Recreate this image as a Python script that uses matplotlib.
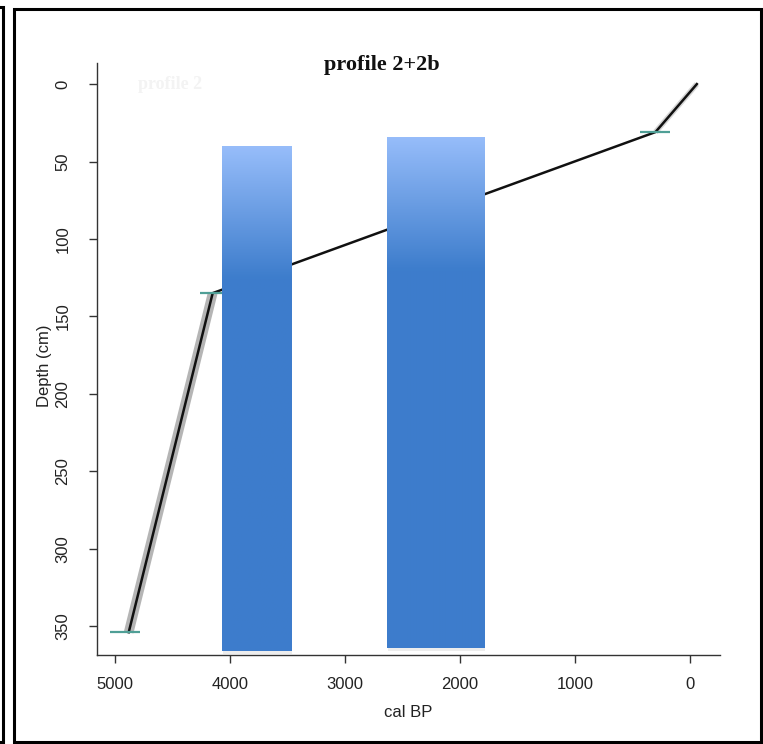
import numpy as np
import matplotlib
matplotlib.use('Agg')
import matplotlib.pyplot as plt
from matplotlib.patches import Rectangle

# age-depth model (cal BP vs depth in cm)
model_age = [-60, 300, 4150, 4880]
model_depth = [0, 31, 135, 354]

# dated levels: depth and calibrated age range
date_depth = [31, 135, 354]
date_age_lo = [170, 4020, 4780]
date_age_hi = [430, 4260, 5040]

# blue blocks drawn over the model
bar_age_left = [4070, 2635]
bar_age_right = [3470, 1790]
bar_top = [40, 34]
bar_bottom = [366, 364]

x_ticks = [5000, 4000, 3000, 2000, 1000, 0]
y_ticks = [0, 50, 100, 150, 200, 250, 300, 350]

plt.rcParams['font.family'] = ['Liberation Sans', 'DejaVu Sans']

fig = plt.figure(figsize=(7.63, 7.44), dpi=100)
ax = fig.add_axes([0.1271, 0.1196, 0.8165, 0.7957])

# uncertainty envelope (grey) and model line
ax.plot(model_age[2:], model_depth[2:], color='#b5b5b5', lw=7, solid_capstyle='butt', zorder=1)
ax.plot(model_age[:2], model_depth[:2], color='#d5d5d5', lw=4, solid_capstyle='butt', zorder=1)
ax.plot(model_age, model_depth, color='#111111', lw=1.8, zorder=2)

# dated levels
ax.hlines(date_depth, date_age_lo, date_age_hi, color='#4f9f96', lw=1.6, zorder=3)

# gradient blocks
grad = np.linspace(0, 1, 256)
light = np.array([0.59, 0.74, 0.98])
dark = np.array([0.24, 0.49, 0.80])
for l, r, t, b in zip(bar_age_left, bar_age_right, bar_top, bar_bottom):
    # soft shadow
    ax.add_patch(Rectangle((l - 12, t + 2), r - l, b - t, facecolor='#000000',
                           alpha=0.07, edgecolor='none', zorder=4))
    bars = ax.bar([(l + r) / 2], [b - t], bottom=[t], width=abs(l - r),
                  color='#3d7ecf', edgecolor='none', zorder=5)
    frac = 0.26
    mix = np.clip(grad / frac, 0, 1)[:, None]
    img = (light * (1 - mix) + dark * mix)[:, None, :]
    im = ax.imshow(img, extent=[l, r, b, t], origin='upper', aspect='auto',
                   zorder=6, interpolation='bilinear')
    im.set_clip_path(bars.patches[0])

ax.set_xlim(5156, -261)
ax.set_ylim(368.7, -13.6)
ax.set_xticks(x_ticks)
ax.set_yticks(y_ticks)
ax.set_yticklabels([str(v) for v in y_ticks], rotation=90, va='center')
ax.spines['top'].set_visible(False)
ax.spines['right'].set_visible(False)
for s in ['left', 'bottom']:
    ax.spines[s].set_color('#333333')
    ax.spines[s].set_linewidth(1.0)
ax.tick_params(axis='both', length=6, width=1.0, color='#333333', labelsize=12, labelcolor='#222222')
ax.tick_params(axis='x', pad=10)
ax.tick_params(axis='y', pad=13)

fig.text(0.535, 0.043, 'cal BP', ha='center', va='center', fontsize=12, color='#222222')
fig.text(0.058, 0.509, 'Depth (cm)', ha='center', va='center', rotation=90, fontsize=12, color='#222222')
fig.text(0.501, 0.913, 'profile 2+2b', ha='center', va='center', fontsize=16,
         fontweight='bold', family='Liberation Serif', color='#111111')
# faint leftover title underneath
fig.text(0.223, 0.887, 'profile 2', ha='center', va='center', fontsize=13,
         fontweight='bold', family='Liberation Serif', color='#f3f3f3')

# frame lines around the figure
fig.add_artist(Rectangle((14 / 763, 2 / 744), 747 / 763, 733 / 744, transform=fig.transFigure,
                         fill=False, edgecolor='black', lw=2.2))
fig.add_artist(Rectangle((-10 / 763, 2 / 744), 13 / 763, 735 / 744, transform=fig.transFigure,
                         fill=False, edgecolor='black', lw=2.2))

fig.savefig('out.png', dpi=100)
